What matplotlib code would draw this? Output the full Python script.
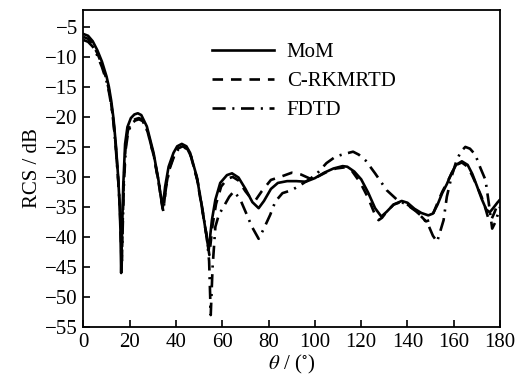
import numpy as np
import matplotlib.pyplot as plt

plt.rcParams['font.family'] = ['Liberation Serif', 'DejaVu Serif']
plt.rcParams['mathtext.fontset'] = 'stix'

# scattering angle (deg) and RCS (dB) for each solver
mom_theta = [0, 2, 4, 6, 8, 10, 11, 12, 13, 14, 15, 15.6, 16.0, 16.3, 16.7, 17.2, 18, 19, 20.5, 22,
             23.5, 25, 27.4, 30.3, 32.4, 33.5, 34.2, 35.3, 36.8, 38.9, 40.5, 42.5, 44.5, 46.1, 49,
             51.2, 53, 54.1, 55.5, 57, 59.1, 62, 64.2, 67, 70, 73, 75.7, 78, 81, 84, 88, 92, 96,
             100, 104, 108, 112, 114, 117, 120, 123, 126, 128.7, 131, 134, 137.5, 140, 143, 146,
             149, 151, 153, 155, 157, 159, 161, 163.5, 166, 168, 170, 172, 174, 175.5, 177, 179, 180]
mom_db = [-6.2, -6.5, -7.4, -8.9, -10.8, -13.3, -15.0, -17.3, -20.3, -24.6, -30.0, -34.4, -39.0, -46.0,
          -39.0, -31.5, -24.5, -21.7, -20.2, -19.6, -19.4, -19.7, -21.6, -26.0, -30.5, -33.4, -35.3,
          -31.6, -28.3, -26.0, -24.9, -24.5, -24.9, -26.0, -30.0, -35.0, -39.4, -42.2, -37.2, -33.8,
          -31.0, -29.7, -29.4, -30.1, -32.0, -34.2, -35.2, -34.0, -32.0, -31.0, -30.7, -30.7, -30.8,
          -30.2, -29.3, -28.6, -28.2, -28.3, -29.1, -30.4, -32.6, -35.2, -36.6, -35.8, -34.6, -34.0,
          -34.3, -35.3, -36.0, -36.4, -36.1, -34.6, -32.7, -31.2, -29.4, -28.0, -27.4, -28.0, -29.5,
          -31.5, -33.6, -35.4, -35.9, -35.2, -34.2, -33.8]

rk_theta = [0, 2, 4, 6, 8, 10, 11, 12, 13, 14, 15, 15.7, 16.1, 16.5, 16.9, 17.4, 18.2, 19.2, 20.7, 22.3,
            24, 25.5, 27.6, 30.4, 32.5, 33.7, 34.5, 35.5, 37, 39.2, 40.8, 42.8, 44.8, 46.3, 49.1,
            51.3, 53.2, 54.4, 55.8, 57.3, 59.5, 62.2, 64.5, 67, 70, 72.5, 74.5, 77, 81, 85, 90, 94,
            98, 101, 105, 109, 113, 116, 119.7, 123, 126, 127.5, 129, 131, 134, 137, 140, 143, 146,
            148, 149.5, 151, 153, 155, 157, 159, 161, 163.5, 166, 168, 170, 172, 173.5, 175, 176,
            177.5, 179, 180]
rk_db = [-6.7, -7.0, -7.9, -9.4, -11.3, -13.8, -15.5, -17.8, -20.8, -25.0, -30.3, -34.8, -39.0, -45.0,
         -38.5, -31.0, -25.0, -22.3, -20.9, -20.4, -20.2, -20.5, -22.3, -26.5, -31.0, -34.0, -35.7,
         -32.0, -28.7, -26.3, -25.3, -24.9, -25.3, -26.4, -30.4, -35.4, -39.8, -43.0, -38.0, -34.5,
         -31.6, -30.3, -30.0, -30.6, -32.4, -33.6, -33.8, -32.4, -30.5, -30.0, -29.3, -29.6, -30.3,
         -30.0, -29.2, -28.6, -28.4, -29.0, -31.0, -33.5, -36.3, -37.2, -36.8, -35.8, -34.6, -34.2,
         -34.6, -35.5, -36.6, -37.4, -37.2, -36.2, -34.3, -32.5, -31.0, -29.5, -28.0, -27.6, -28.3,
         -29.8, -31.5, -33.3, -35.0, -37.0, -37.3, -36.0, -34.5, -33.8]

fd_theta = [0, 2, 4, 6, 8, 10, 11, 12, 13, 14, 15, 15.8, 16.2, 16.6, 17.0, 17.5, 18.3, 19.3, 20.8, 22.4,
            24, 25.6, 27.8, 30.5, 32.6, 33.8, 34.6, 35.6, 37.1, 39.3, 41, 43, 45, 46.5, 49.3,
            51.5, 53.3, 54.3, 55.0, 55.8, 57, 58.5, 60.5, 63, 65, 67.7, 70.6, 72.8, 75.7, 77.7, 80.7,
            82.9, 86, 90, 94, 98, 101, 105, 109, 112.5, 116.5, 119, 122, 126, 131, 135.5, 140, 143,
            146, 149, 151, 152.8, 154.2, 155.6, 157, 159, 161, 163, 165, 167, 169.3, 171.5, 173.7,
            175, 176.6, 178, 180]
fd_db = [-7.2, -7.5, -8.3, -9.8, -11.7, -14.1, -15.8, -18.0, -21.0, -25.3, -30.5, -35.0, -39.0, -44.0,
         -38.0, -31.0, -25.3, -22.6, -21.1, -20.6, -20.4, -20.7, -22.5, -26.7, -31.0, -34.0, -35.4,
         -32.0, -28.8, -26.4, -25.4, -25.0, -25.4, -26.6, -30.6, -35.6, -40.0, -44.0, -53.0, -45.0,
         -38.3, -36.3, -35.0, -33.3, -32.4, -33.7, -36.3, -38.3, -40.3, -38.8, -36.3, -34.1, -32.7,
         -32.2, -31.3, -30.3, -29.4, -27.7, -26.6, -26.2, -25.8, -26.3, -27.3, -29.4, -32.2, -33.8,
         -34.7, -35.5, -36.5, -38.0, -39.8, -40.8, -39.0, -37.2, -33.3, -30.0, -27.5, -25.8, -25.0,
         -25.3, -26.3, -28.5, -30.5, -34.0, -38.6, -37.5, -35.0]

x_ticks = np.arange(0, 181, 20)
y_ticks = np.arange(-55, -4, 5)

fig = plt.figure(figsize=(5.15, 3.83), dpi=100)
ax = fig.add_axes([0.162, 0.146, 0.809, 0.828])

ax.plot(mom_theta, mom_db, color='black', lw=1.9, label='MoM')
ax.plot(rk_theta, rk_db, color='black', lw=1.9, dashes=(4, 3), label='C-RKMRTD')
ax.plot(fd_theta, fd_db, color='black', lw=1.9, dashes=(5, 2.5, 0.8, 2.5), label='FDTD')

ax.set_xlim(0, 180)
ax.set_ylim(-55, -2.2)
ax.set_xticks(x_ticks)
ax.set_yticks(y_ticks)
ax.tick_params(direction='in', length=5, width=1.2, labelsize=15, pad=4)
for sp in ax.spines.values():
    sp.set_linewidth(1.3)

ax.set_xlabel(r'$\theta$ / ($^{\circ}$)', fontsize=15, labelpad=1)
ax.set_ylabel('RCS / dB', fontsize=15, labelpad=2)

ax.legend(loc='upper left', bbox_to_anchor=(0.308, 0.898), frameon=False, fontsize=15,
          handlelength=3.0, handletextpad=0.6, labelspacing=0.45, borderpad=0, borderaxespad=0)

fig.savefig('out.png', dpi=100)
